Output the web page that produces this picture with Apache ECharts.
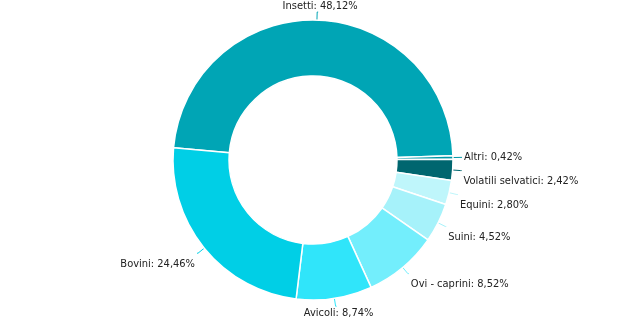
<!DOCTYPE html>
<html>
<head>
<meta charset="utf-8">
<script src="https://cdn.jsdelivr.net/npm/echarts@6/dist/echarts.min.js"></script>
<style>html,body{margin:0;padding:0;background:#fff}#c{width:625px;height:322px}</style>
</head>
<body>
<div id="c"></div>
<script>
const categories = ['Insetti', 'Altri', 'Volatili selvatici', 'Equini', 'Suini', 'Ovi - caprini', 'Avicoli', 'Bovini'];
const values = [48.12, 0.42, 2.42, 2.80, 4.52, 8.52, 8.74, 24.46];
const colors = ['#00a5b5', '#0097a7', '#00666f', '#bff6fb', '#a6f2fa', '#73eefc', '#30e5fa', '#00cfe6'];

const chart = echarts.init(document.getElementById('c'));
chart.setOption({
  animation: false,
  backgroundColor: '#fff',
  series: [{
    type: 'pie',
    center: [313, 160],
    radius: [84, 140],
    startAngle: 175,
    clockwise: true,
    avoidLabelOverlap: true,
    data: categories.map((n, i) => ({ name: n, value: values[i], itemStyle: { color: colors[i] } })),
    itemStyle: { borderColor: '#fff', borderWidth: 1.5 },
    label: {
      formatter: p => p.name + ': ' + p.value.toFixed(2).replace('.', ',') + '%',
      fontFamily: '"DejaVu Sans Condensed", sans-serif',
      fontSize: 11,
      color: '#222',
      distanceToLabelLine: 2
    },
    labelLine: { length: 8, length2: 1, lineStyle: { width: 1 } },
    labelLayout: function (p) {
      const pts = p.labelLinePoints;
      if (!pts) return {};
      const dx = pts[1][0] - pts[0][0];
      const dy = pts[1][1] - pts[0][1];
      const len = Math.sqrt(dx * dx + dy * dy) || 1;
      const c = dx / len, s = dy / len;
      const out = {};
      if (Math.abs(c) < 0.25) out.align = 'center';
      if (s < -0.7) out.verticalAlign = 'bottom';
      else if (s > 0.05) {
        out.verticalAlign = 'top';
        out.dy = Math.abs(c) < 0.25 ? 1 : 5;
      }
      return out;
    }
  }]
});
</script>
</body>
</html>
